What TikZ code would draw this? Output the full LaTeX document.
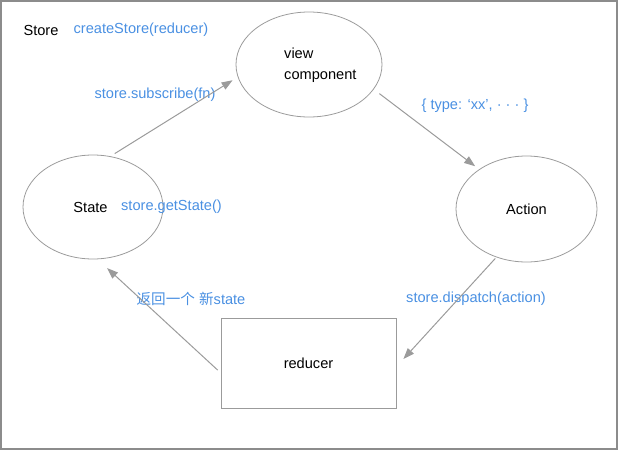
\documentclass[tikz,border=0pt]{standalone}
\usepackage{fontspec}
\setmainfont{Liberation Sans}
\newfontfamily\cjk{Noto Sans CJK SC}
\usetikzlibrary{shapes.geometric,arrows.meta}
\definecolor{lblue}{HTML}{4A90E2}
\definecolor{lgray}{HTML}{9B9B9B}
\definecolor{fgray}{HTML}{8C8C8C}
\begin{document}
\begin{tikzpicture}[x=1pt,y=-1pt,
  every node/.style={font=\fontsize{14.6}{21}\selectfont, inner sep=0pt},
  shp/.style={draw=lgray, line width=0.8pt},
  lbl/.style={text=lblue},
  arr/.style={draw=lgray, line width=1pt, -{Triangle[length=11pt,width=8pt]}}]
\useasboundingbox (0,0) rectangle (618,450);
\node[draw=fgray, line width=1.5pt, minimum width=616pt, minimum height=448pt] (frame) at (309,225) {};
% shapes
\node[shp, ellipse, minimum width=146pt, minimum height=105pt] (view) at (309,64.5) {};
\node[anchor=west, align=left] (viewtxt) at (284,65) {view\\component};
\node[shp, ellipse, minimum width=140pt, minimum height=104pt] (state) at (93,207) {};
\node (statetxt) at (90.5,207) {State};
\node[shp, ellipse, minimum width=141pt, minimum height=106pt] (action) at (526.5,209) {Action};
\node[shp, minimum width=175pt, minimum height=90pt] (reducer) at (308.5,363) {reducer};
% labels
\node (store) at (41,30) {Store};
\node[lbl] (create) at (141,30) {createStore(reducer)};
\node[lbl] (sub) at (155,95) {store.subscribe(fn)};
\node[lbl] (type) at (475,106) {\{ type: ‘xx’, · · · \}};
\node[lbl] (get) at (171.5,207) {store.getState()};
\node[lbl] (ret) at (191,299) {{\cjk 返回一个} {\cjk 新}state};
\node[lbl] (disp) at (476,299) {store.dispatch(action)};
% arrows
\draw[arr, shorten <=5pt, shorten >=6pt] (state.71.4) -- (view.190);
\draw[arr, shorten <=7pt, shorten >=5pt] (view.-21.8) -- (action.140.6);
\draw[arr, shorten <=1.5pt, shorten >=10.4pt] (action.-122.4) -- ([yshift=-3.7pt]reducer.east);
\draw[arr, shorten <=4pt, shorten >=13pt] ([yshift=-9.8pt]reducer.west) -- (state.-85.4);
\end{tikzpicture}
\end{document}
